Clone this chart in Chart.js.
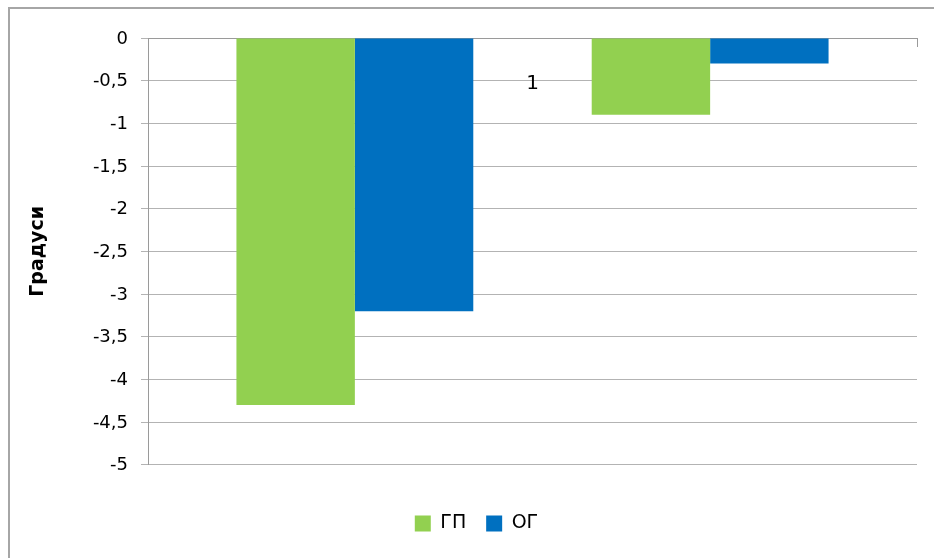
<!DOCTYPE html>
<html>
<head>
<meta charset="utf-8">
<script src="https://cdn.jsdelivr.net/npm/chart.js@4.4.1/dist/chart.umd.min.js"></script>
<style>
  html, body { margin: 0; padding: 0; background: #ffffff; overflow: hidden; }
  #wrap { position: relative; width: 934px; height: 558px; overflow: hidden; }
  #frameTop { position: absolute; left: 8px; top: 7px; width: 926px; height: 2px; background: #a6a6a6; }
  #frameLeft { position: absolute; left: 8px; top: 7px; width: 2px; height: 551px; background: #a6a6a6; }
  canvas { position: absolute; left: 0; top: 0; }
</style>
</head>
<body>
<div id="wrap">
  <div id="frameTop"></div>
  <div id="frameLeft"></div>
  <canvas id="c" width="934" height="558"></canvas>
</div>
<script>
// ---- data ----
const categories = ['1'];
const seriesNames = ['ГП', 'ОГ'];
const seriesColors = ['#92D050', '#0070C0'];
const gpValues = [-4.3, -0.9];   // ГП: first group, second group
const ogValues = [-3.2, -0.3];   // ОГ: first group, second group
const yMin = -5, yMax = 0, yStep = 0.5;
const yTitle = 'Градуси';

// five bar slots within the single category: ГП, ОГ, (empty), ГП, ОГ
const datasets = [
  { label: seriesNames[0], data: [gpValues[0]], backgroundColor: seriesColors[0] },
  { label: seriesNames[1], data: [ogValues[0]], backgroundColor: seriesColors[1] },
  { label: '', data: [null], backgroundColor: 'rgba(0,0,0,0)' },
  { label: seriesNames[0], data: [gpValues[1]], backgroundColor: seriesColors[0] },
  { label: seriesNames[1], data: [ogValues[1]], backgroundColor: seriesColors[1] }
];

const FONT = '"DejaVu Sans", "Liberation Sans", sans-serif';

new Chart(document.getElementById('c'), {
  type: 'bar',
  data: { labels: categories, datasets: datasets },
  options: {
    responsive: false,
    animation: false,
    categoryPercentage: 0.77,
    barPercentage: 1.0,
    layout: { padding: { top: 38, right: 17, bottom: 15, left: 36 } },
    plugins: {
      tooltip: { enabled: false },
      legend: {
        position: 'bottom',
        title: { display: true, text: '', font: { size: 1 }, padding: { top: 14, bottom: 14 } },
        labels: {
          filter: (item) => item.datasetIndex < 2,
          boxWidth: 16, boxHeight: 16, padding: 20, color: '#000',
          font: { family: FONT, size: 19 }
        }
      }
    },
    scales: {
      x: {
        position: { y: 0 },
        offset: true,
        grid: { display: true, drawOnChartArea: false, tickLength: 8, color: '#9a9a9a' },
        border: { display: true, color: '#9a9a9a', width: 1 },
        ticks: { color: '#000', padding: 26, font: { family: FONT, size: 20 } }
      },
      y: {
        min: yMin, max: yMax,
        afterFit: (s) => { s.width = 112; },
        grid: { color: '#b3b3b3', tickLength: 7 },
        border: { display: true, color: '#9a9a9a' },
        ticks: {
          stepSize: yStep, color: '#000', padding: 13, labelOffset: 1,
          font: { family: FONT, size: 18 },
          callback: (v) => String(Math.round(v * 10) / 10).replace('.', ',')
        },
        title: {
          display: true, text: yTitle, color: '#000',
          font: { family: FONT, size: 19, weight: 'bold' },
          padding: { top: -9, bottom: 0 }
        }
      }
    }
  }
});
</script>
</body>
</html>
